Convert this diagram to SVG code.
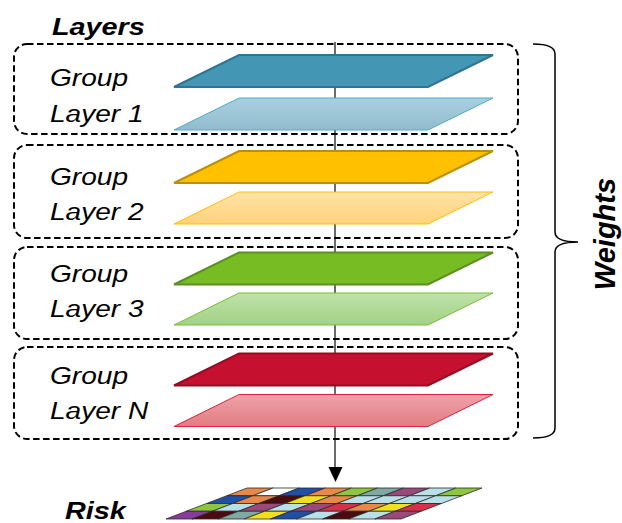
<svg xmlns="http://www.w3.org/2000/svg" xmlns:xlink="http://www.w3.org/1999/xlink" width="622" height="523" viewBox="0 0 622 523">
  <style>
    .lbl { font-family: "Liberation Sans", Arial, sans-serif; font-style: italic; font-size: 24px; fill: #000; }
    .ttl { font-family: "Liberation Sans", Arial, sans-serif; font-style: italic; font-weight: bold; font-size: 24px; fill: #000; }
    .vt { font-size: 29px; }
    .box { fill: none; stroke: #000; stroke-width: 2; stroke-dasharray: 6.5 3.5; }
    .axis { stroke: #3a3a3a; stroke-width: 1.5; fill: none; }
    .brace { stroke: #000; stroke-width: 1.5; fill: none; }
    .cell { stroke: #2a2a2a; stroke-width: 0.8; vector-effect: non-scaling-stroke; }
    .t1 { fill: #4397b5; stroke: #2f7590; stroke-width: 2; }
    .l1 { fill: url(#g1); stroke: #4bacc6; stroke-width: 1; }
    .t2 { fill: #ffc000; stroke: #b8900a; stroke-width: 2; }
    .l2 { fill: url(#g2); stroke: #ffc000; stroke-width: 1; }
    .t3 { fill: #78bc24; stroke: #5a9020; stroke-width: 2; }
    .l3 { fill: url(#g3); stroke: #79bd33; stroke-width: 1; }
    .t4 { fill: #c6102f; stroke: #960c24; stroke-width: 2; }
    .l4 { fill: url(#g4); stroke: #e0203c; stroke-width: 1; }
  </style>
  <defs>
    <polygon id="slab" points="239,0 493,0 428,32 174,32"/>
    <linearGradient id="g1" x1="0" y1="0" x2="0" y2="1">
      <stop offset="0" stop-color="#a9d0e1"/><stop offset="1" stop-color="#92bccd"/>
    </linearGradient>
    <linearGradient id="g2" x1="0" y1="0" x2="0" y2="1">
      <stop offset="0" stop-color="#ffe3a8"/><stop offset="1" stop-color="#ffd27a"/>
    </linearGradient>
    <linearGradient id="g3" x1="0" y1="0" x2="0" y2="1">
      <stop offset="0" stop-color="#bfe2a8"/><stop offset="1" stop-color="#a3d186"/>
    </linearGradient>
    <linearGradient id="g4" x1="0" y1="0" x2="0" y2="1">
      <stop offset="0" stop-color="#eea3a8"/><stop offset="1" stop-color="#e27c82"/>
    </linearGradient>
  </defs>

  <rect width="622" height="523" fill="#fff"/>

  <!-- connectors: central axis with arrow, and the weights brace -->
  <g id="connectors">
    <line class="axis" x1="335" y1="42" x2="335" y2="470"/>
    <polygon points="328.5,467 342.5,467 335.5,482" fill="#000"/>
    <path class="brace" d="M533,44 Q555,44 555,54 L555,232 Q555,242 578,242 Q555,242 555,252 L555,428 Q555,438 533,438"/>
  </g>

  <text class="ttl" transform="translate(52,35) scale(1.2,1)">Layers</text>

  <g id="group1">
    <rect class="box" x="14" y="44" width="504" height="90" rx="13"/>
    <use xlink:href="#slab" href="#slab" class="t1" y="55"/>
    <use xlink:href="#slab" href="#slab" class="l1" y="98"/>
    <text class="lbl" transform="translate(50,86) scale(1.17,1)">Group</text>
    <text class="lbl" transform="translate(50,122) scale(1.17,1)">Layer 1</text>
  </g>

  <g id="group2">
    <rect class="box" x="14" y="145" width="504" height="93" rx="13"/>
    <use xlink:href="#slab" href="#slab" class="t2" y="151"/>
    <use xlink:href="#slab" href="#slab" class="l2" y="192"/>
    <text class="lbl" transform="translate(50,185) scale(1.17,1)">Group</text>
    <text class="lbl" transform="translate(50,220) scale(1.17,1)">Layer 2</text>
  </g>

  <g id="group3">
    <rect class="box" x="14" y="247" width="504" height="92" rx="13"/>
    <use xlink:href="#slab" href="#slab" class="t3" y="252.5"/>
    <use xlink:href="#slab" href="#slab" class="l3" y="293"/>
    <text class="lbl" transform="translate(50,282) scale(1.17,1)">Group</text>
    <text class="lbl" transform="translate(50,317) scale(1.17,1)">Layer 3</text>
  </g>

  <g id="groupN">
    <rect class="box" x="14" y="347" width="504" height="92" rx="13"/>
    <use xlink:href="#slab" href="#slab" class="t4" y="353.5"/>
    <use xlink:href="#slab" href="#slab" class="l4" y="394.5"/>
    <text class="lbl" transform="translate(50,384) scale(1.17,1)">Group</text>
    <text class="lbl" transform="translate(50,419) scale(1.17,1)">Layer N</text>
  </g>

  <g id="weights">
    <text class="ttl vt" text-anchor="middle" transform="translate(615,234) rotate(-90)">Weights</text>
  </g>

  <!-- risk map: 9 x 4 cells sheared onto a slab -->
  <g id="risk">
    <g transform="matrix(26.111 0 -20.25 7.75 247 488)">
      <rect class="cell" x="0" y="0" width="1" height="1" fill="#e8894a"/>
      <rect class="cell" x="1" y="0" width="1" height="1" fill="#ffffff"/>
      <rect class="cell" x="2" y="0" width="1" height="1" fill="#1f4fa8"/>
      <rect class="cell" x="3" y="0" width="1" height="1" fill="#e8894a"/>
      <rect class="cell" x="4" y="0" width="1" height="1" fill="#8ec63f"/>
      <rect class="cell" x="5" y="0" width="1" height="1" fill="#7fa9a3"/>
      <rect class="cell" x="6" y="0" width="1" height="1" fill="#9a4a7a"/>
      <rect class="cell" x="7" y="0" width="1" height="1" fill="#b8e0e8"/>
      <rect class="cell" x="8" y="0" width="1" height="1" fill="#8ec63f"/>

      <rect class="cell" x="0" y="1" width="1" height="1" fill="#1f4fa8"/>
      <rect class="cell" x="1" y="1" width="1" height="1" fill="#e8894a"/>
      <rect class="cell" x="2" y="1" width="1" height="1" fill="#4a0c10"/>
      <rect class="cell" x="3" y="1" width="1" height="1" fill="#f0e020"/>
      <rect class="cell" x="4" y="1" width="1" height="1" fill="#e8894a"/>
      <rect class="cell" x="5" y="1" width="1" height="1" fill="#b8e0e8"/>
      <rect class="cell" x="6" y="1" width="1" height="1" fill="#b8e0e8"/>
      <rect class="cell" x="7" y="1" width="1" height="1" fill="#b8e0e8"/>
      <rect class="cell" x="8" y="1" width="1" height="1" fill="#b8e0e8"/>

      <rect class="cell" x="0" y="2" width="1" height="1" fill="#8ec63f"/>
      <rect class="cell" x="1" y="2" width="1" height="1" fill="#b8e0e8"/>
      <rect class="cell" x="2" y="2" width="1" height="1" fill="#9a4a7a"/>
      <rect class="cell" x="3" y="2" width="1" height="1" fill="#b8e0e8"/>
      <rect class="cell" x="4" y="2" width="1" height="1" fill="#9a4a7a"/>
      <rect class="cell" x="5" y="2" width="1" height="1" fill="#d8304a"/>
      <rect class="cell" x="6" y="2" width="1" height="1" fill="#e8894a"/>
      <rect class="cell" x="7" y="2" width="1" height="1" fill="#f0e020"/>
      <rect class="cell" x="8" y="2" width="1" height="1" fill="#d8304a"/>

      <rect class="cell" x="0" y="3" width="1" height="1" fill="#8a3a9a"/>
      <rect class="cell" x="1" y="3" width="1" height="1" fill="#4a0c10"/>
      <rect class="cell" x="2" y="3" width="1" height="1" fill="#7fa9a3"/>
      <rect class="cell" x="3" y="3" width="1" height="1" fill="#f0e020"/>
      <rect class="cell" x="4" y="3" width="1" height="1" fill="#1f4fa8"/>
      <rect class="cell" x="5" y="3" width="1" height="1" fill="#b8e0e8"/>
      <rect class="cell" x="6" y="3" width="1" height="1" fill="#4a0c10"/>
      <rect class="cell" x="7" y="3" width="1" height="1" fill="#b8e0e8"/>
      <rect class="cell" x="8" y="3" width="1" height="1" fill="#9a4a7a"/>
    </g>
    <text class="ttl" transform="translate(65,519) scale(1.2,1)">Risk</text>
  </g>
</svg>
